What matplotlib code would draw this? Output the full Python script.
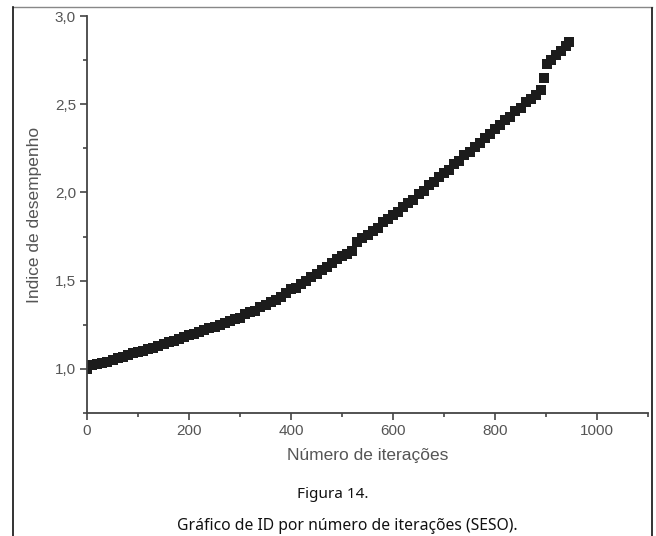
import matplotlib.pyplot as plt
from matplotlib.lines import Line2D
from matplotlib.ticker import MultipleLocator, FuncFormatter

# iterações e índice de desempenho
iteracoes = [0, 10, 20, 30, 40, 50, 60, 70, 80, 90,
             100, 110, 120, 130, 140, 150, 160, 170, 180, 190,
             200, 210, 220, 230, 240, 250, 260, 270, 280, 290,
             300, 310, 320, 330, 340, 350, 360, 370, 380, 390,
             400, 410, 420, 430, 440, 450, 460, 470, 480, 490,
             500, 510, 520, 530, 540, 550, 560, 570, 580, 590,
             600, 610, 620, 630, 640, 650, 660, 670, 680, 690,
             700, 710, 720, 730, 740, 750, 760, 770, 780, 790,
             800, 810, 820, 830, 840, 850, 860, 870, 880, 890,
             896, 902, 910, 920, 930, 940, 945]
desempenho = [1.00, 1.02, 1.03, 1.035, 1.04, 1.05, 1.06, 1.07, 1.08, 1.09,
              1.095, 1.10, 1.11, 1.12, 1.13, 1.14, 1.15, 1.16, 1.17, 1.18,
              1.19, 1.20, 1.21, 1.22, 1.23, 1.24, 1.25, 1.26, 1.27, 1.28,
              1.29, 1.31, 1.32, 1.33, 1.35, 1.36, 1.38, 1.39, 1.41, 1.43,
              1.45, 1.46, 1.48, 1.50, 1.52, 1.54, 1.56, 1.58, 1.60, 1.62,
              1.64, 1.65, 1.67, 1.72, 1.74, 1.76, 1.78, 1.80, 1.83, 1.85,
              1.87, 1.89, 1.92, 1.94, 1.96, 1.99, 2.01, 2.04, 2.06, 2.09,
              2.11, 2.13, 2.16, 2.18, 2.21, 2.23, 2.26, 2.28, 2.31, 2.33,
              2.36, 2.38, 2.41, 2.43, 2.46, 2.48, 2.51, 2.53, 2.55, 2.58,
              2.65, 2.73, 2.75, 2.78, 2.80, 2.83, 2.85]

fig = plt.figure(figsize=(6.56, 5.36), dpi=100)
ax = fig.add_axes([87 / 656, 1 - 413 / 536, 561 / 656, 397 / 536])

ax.plot(iteracoes, desempenho, linestyle='none', marker='s', markersize=6.8,
        color='#1c1c1c', markeredgewidth=0)

ax.set_xlim(0, 1100)
ax.set_ylim(0.75, 3.0)
ax.xaxis.set_major_locator(MultipleLocator(200))
ax.xaxis.set_minor_locator(MultipleLocator(100))
ax.yaxis.set_major_locator(MultipleLocator(0.5))
ax.yaxis.set_minor_locator(MultipleLocator(0.25))
ax.yaxis.set_major_formatter(FuncFormatter(lambda v, p: f'{v:.1f}'.replace('.', ',')))

cinza = '#444444'
for s in ['top', 'right']:
    ax.spines[s].set_visible(False)
for s in ['left', 'bottom']:
    ax.spines[s].set_color(cinza)
    ax.spines[s].set_linewidth(1.3)
ax.tick_params(which='major', length=5, width=1.2, color=cinza, labelcolor='#555555',
               labelsize=11, pad=3)
ax.tick_params(which='minor', length=3, width=1.2, color=cinza)
for lab in ax.get_xticklabels() + ax.get_yticklabels():
    lab.set_family('Liberation Sans')

ax.set_xlabel('Número de iterações', fontsize=12.5, color='#555555',
              family='Liberation Sans', labelpad=7)
ax.set_ylabel('Indice de desempenho', fontsize=12.5, color='#555555',
              family='Liberation Sans', labelpad=9)

fig.text(333 / 656, 1 - 494 / 536, 'Figura 14.', ha='center', va='center',
         fontsize=11, family='Noto Sans', color='#111111')
fig.text(347 / 656, 1 - 526 / 536, 'Gráfico de ID por número de iterações (SESO).',
         ha='center', va='center', fontsize=11.3, family='Noto Sans', color='#111111')

# moldura da página
fig.add_artist(Line2D([13 / 656, 652 / 656], [1 - 7 / 536, 1 - 7 / 536],
                      transform=fig.transFigure, color='#888888', linewidth=1))
fig.add_artist(Line2D([13 / 656, 13 / 656], [0, 1 - 7 / 536],
                      transform=fig.transFigure, color='#111111', linewidth=1.2))
fig.add_artist(Line2D([652 / 656, 652 / 656], [0, 1 - 8 / 536],
                      transform=fig.transFigure, color='#111111', linewidth=1.2))

fig.savefig('out.png', dpi=100)
